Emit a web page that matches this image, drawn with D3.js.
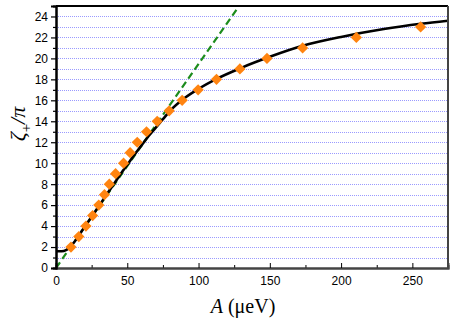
<!DOCTYPE html>
<html><head><meta charset="utf-8">
<script src="https://cdn.jsdelivr.net/npm/d3@7"></script>
<style>body{margin:0;background:#fff}svg{display:block}</style>
</head><body>
<script>
// Data
const pointA = [10.5, 16, 21, 25.7, 30, 34, 37.4, 41.8, 47.4, 52, 57, 63.5, 71, 79.4, 88.5, 99.7, 112.6, 129, 148, 173, 210.7, 255.8];
const pointZ = [2, 3, 4, 5, 6, 7, 8, 9, 10, 11, 12, 13, 14, 15, 16, 17, 18, 19, 20, 21, 22, 23];
const curveA = [0, 4, 7, 10, 13, 16, 20, 25, 30, 35, 40, 45, 50, 55, 60, 65, 70, 75, 80, 90, 100, 112, 130, 150, 173, 200, 230, 256, 275];
const curveZ = [1.6, 1.6, 1.7, 2.0, 2.5, 3.1, 3.9, 4.9, 5.9, 6.9, 7.9, 8.9, 9.85, 10.8, 11.7, 12.6, 13.4, 14.2, 15.0, 16.2, 17.1, 18.0, 19.1, 20.15, 21.2, 22.05, 22.8, 23.3, 23.6];
const lineA = [0, 128.4];
const lineZ = [0, 25];
const xTicks = [0, 50, 100, 150, 200, 250];
const yTicks = [0, 2, 4, 6, 8, 10, 12, 14, 16, 18, 20, 22, 24];

const W = 463, H = 328;
const m = {l: 56, r: 15, t: 6, b: 60};
const svg = d3.select("body").append("svg").attr("width", W).attr("height", H);
const x = d3.scaleLinear().domain([0, 275]).range([m.l, W - m.r]);
const y = d3.scaleLinear().domain([0, 25]).range([H - m.b, m.t]);

svg.append("defs").append("clipPath").attr("id", "clip")
  .append("rect").attr("x", m.l).attr("y", m.t).attr("width", W - m.r - m.l).attr("height", H - m.b - m.t);

// grid
svg.append("g").selectAll("line").data(d3.range(1, 25)).join("line")
  .attr("x1", m.l).attr("x2", W - m.r)
  .attr("y1", d => Math.round(y(d)) + 0.5).attr("y2", d => Math.round(y(d)) + 0.5)
  .attr("stroke", "#9a9aff").attr("stroke-width", 1).attr("stroke-dasharray", "1,1");

const plot = svg.append("g").attr("clip-path", "url(#clip)");
// green dashed
plot.append("path").datum(lineA.map((a, i) => [a, lineZ[i]]))
  .attr("d", d3.line().x(d => x(d[0])).y(d => y(d[1])))
  .attr("fill", "none").attr("stroke", "#1c8c1c").attr("stroke-width", 2.2).attr("stroke-dasharray", "7,4");
// black curve
plot.append("path").datum(curveA.map((a, i) => [a, curveZ[i]]))
  .attr("d", d3.line().x(d => x(d[0])).y(d => y(d[1])).curve(d3.curveMonotoneX))
  .attr("fill", "none").attr("stroke", "#000").attr("stroke-width", 2.6);
// diamonds
plot.selectAll("path.pt").data(pointA.map((a, i) => [a, pointZ[i]])).join("path")
  .attr("class", "pt")
  .attr("d", d3.symbol().type(d3.symbolDiamond2).size(80))
  .attr("transform", d => `translate(${x(d[0])},${y(d[1])})`)
  .attr("fill", "#ff8410");

// frame
svg.append("line").attr("x1", m.l).attr("x2", W - m.r).attr("y1", m.t).attr("y2", m.t).attr("stroke", "#000").attr("stroke-width", 2);
svg.append("line").attr("x1", W - m.r).attr("x2", W - m.r).attr("y1", m.t).attr("y2", H - m.b).attr("stroke", "#444").attr("stroke-width", 2);

// x axis (ticks inward)
const gx = svg.append("g").attr("transform", `translate(0,${H - m.b})`);
gx.call(d3.axisBottom(x).tickValues(d3.range(25, 275, 50)).tickSize(-3).tickFormat(""));
gx.call(g => g.append("g").call(d3.axisBottom(x).tickValues(xTicks).tickSize(-5).tickPadding(8)));
gx.selectAll(".domain").attr("stroke", "#444").attr("stroke-width", 2);
gx.selectAll(".tick line").attr("stroke", "#000").attr("stroke-width", 1);
gx.selectAll("text").attr("font-family", "Liberation Sans, Arial, sans-serif").attr("font-size", 12).attr("fill", "#000");

// y axis (ticks outward)
const gy = svg.append("g").attr("transform", `translate(${m.l},0)`);
gy.call(d3.axisLeft(y).tickValues(d3.range(1, 25, 2)).tickSize(3).tickFormat(""));
gy.call(g => g.append("g").call(d3.axisLeft(y).tickValues(yTicks).tickSize(5).tickPadding(3)));
gy.selectAll(".domain").attr("stroke", "#000").attr("stroke-width", 2);
gy.selectAll(".tick line").attr("stroke", "#000").attr("stroke-width", 1.2);
gy.selectAll("text").attr("font-family", "Liberation Sans, Arial, sans-serif").attr("font-size", 12).attr("fill", "#000");

// x label
const xl = svg.append("text").attr("x", 243).attr("y", 313).attr("text-anchor", "middle")
  .attr("font-family", "Liberation Serif, Times New Roman, serif").attr("font-size", 20).attr("fill", "#000");
xl.append("tspan").attr("font-style", "italic").text("A");
xl.append("tspan").text(" (μeV)");

// y label
const yl = svg.append("text").attr("transform", "translate(25,124) rotate(-90)").attr("text-anchor", "middle")
  .attr("font-family", "Liberation Serif, Times New Roman, serif").attr("font-size", 22).attr("fill", "#000");
yl.append("tspan").attr("font-style", "italic").text("ζ");
yl.append("tspan").attr("font-size", 15).attr("dy", 6).text("+");
yl.append("tspan").attr("font-style", "italic").attr("dy", -6).text("/π");
</script>
</body></html>
